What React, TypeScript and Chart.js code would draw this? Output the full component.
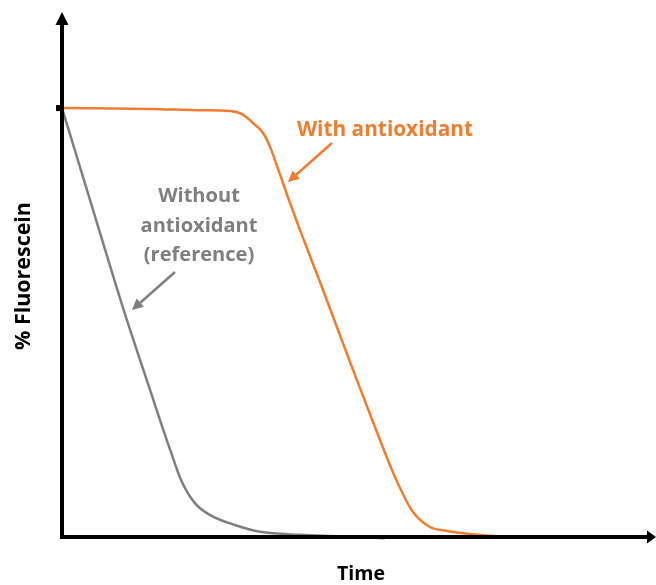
import React, { useEffect, useRef } from "react";
import { Chart, registerables } from "chart.js";

Chart.register(...registerables);

// Time (arbitrary units) and % fluorescein remaining for each assay curve
const withoutTime = [0, 4.76, 10.5, 14.97, 18.4, 20.4, 22.6, 25.2, 29.4, 33.7, 40.5, 47.3, 54.9];
const withoutFluor = [100, 78.6, 52.9, 34.3, 20.3, 12.8, 7.9, 5.1, 2.8, 1.2, 0.5, 0.2, -0.3];

const withTime = [0, 14.97, 23.5, 28.6, 30.6, 32.5, 34.2, 35.4, 36.7, 38.78, 41.33, 43.88, 46.43, 48.98, 51.53, 54.08, 56.12, 57.82, 59.69, 62.59, 65.5, 69.4, 74.0, 77.9];
const withFluor = [100, 99.8, 99.5, 99.3, 98.6, 96.5, 94.2, 90.9, 86.0, 77.86, 68.53, 59.44, 50.12, 40.79, 31.7, 22.61, 15.62, 10.49, 5.83, 2.33, 1.4, 0.7, 0.2, 0];

const xAxisTitle = "Time";
const yAxisTitle = "% Fluorescein";
const withLabel = ["With antioxidant"];
const withoutLabel = ["Without", "antioxidant", "(reference)"];

const ORANGE = "#ed7d31";
const GRAY = "#7f7f7f";
const FAMILY = "'Open Sans', 'Noto Sans', sans-serif";

// pick a bold font size so that `text` spans `width` pixels
function fitFont(ctx: CanvasRenderingContext2D, text: string, width: number) {
  ctx.font = `bold 20px ${FAMILY}`;
  const w = ctx.measureText(text).width;
  const size = (20 * width) / w;
  ctx.font = `bold ${size.toFixed(2)}px ${FAMILY}`;
}

function arrow(ctx: CanvasRenderingContext2D, x1: number, y1: number, x2: number, y2: number, color: string) {
  const ang = Math.atan2(y2 - y1, x2 - x1);
  const head = 11;
  const half = 5.5;
  const bx = x2 - head * Math.cos(ang);
  const by = y2 - head * Math.sin(ang);
  ctx.save();
  ctx.strokeStyle = color;
  ctx.fillStyle = color;
  ctx.lineWidth = 2.5;
  ctx.beginPath();
  ctx.moveTo(x1, y1);
  ctx.lineTo(bx, by);
  ctx.stroke();
  ctx.beginPath();
  ctx.moveTo(x2, y2);
  ctx.lineTo(bx + half * Math.sin(ang), by - half * Math.cos(ang));
  ctx.lineTo(bx - half * Math.sin(ang), by + half * Math.cos(ang));
  ctx.closePath();
  ctx.fill();
  ctx.restore();
}

// Axes with arrowheads, the 100 % tick, titles and callouts
const decorPlugin = {
  id: "decor",
  afterDatasetsDraw(chart: Chart) {
    const { ctx, chartArea, scales } = chart;
    const x0 = chartArea.left;
    const y0 = scales.y.getPixelForValue(0);
    const y100 = scales.y.getPixelForValue(100);
    ctx.save();
    ctx.strokeStyle = "#000";
    ctx.fillStyle = "#000";
    ctx.lineWidth = 4;
    ctx.lineCap = "butt";
    // y axis
    ctx.beginPath();
    ctx.moveTo(x0, y0 + 2);
    ctx.lineTo(x0, chartArea.top + 10);
    ctx.stroke();
    ctx.beginPath();
    ctx.moveTo(x0, chartArea.top);
    ctx.lineTo(x0 - 6.5, chartArea.top + 13);
    ctx.lineTo(x0 + 6.5, chartArea.top + 13);
    ctx.closePath();
    ctx.fill();
    // x axis
    const xEnd = chart.width;
    ctx.beginPath();
    ctx.moveTo(x0 - 2, y0);
    ctx.lineTo(xEnd - 8, y0);
    ctx.stroke();
    ctx.beginPath();
    ctx.moveTo(xEnd, y0);
    ctx.lineTo(xEnd - 9, y0 - 6.5);
    ctx.lineTo(xEnd - 9, y0 + 6.5);
    ctx.closePath();
    ctx.fill();
    // tick at 100 %
    ctx.fillRect(x0 - 6, y100 - 3, 6, 6);

    // axis titles
    ctx.textAlign = "center";
    ctx.textBaseline = "alphabetic";
    fitFont(ctx, xAxisTitle, 48);
    ctx.fillText(xAxisTitle, 361, 580);
    ctx.save();
    ctx.translate(30, 276);
    ctx.rotate(-Math.PI / 2);
    fitFont(ctx, yAxisTitle, 148);
    ctx.fillText(yAxisTitle, 0, 0);
    ctx.restore();

    // callouts
    fitFont(ctx, withLabel[0], 176);
    ctx.fillStyle = ORANGE;
    ctx.textAlign = "left";
    withLabel.forEach((t, i) => ctx.fillText(t, 297, 136 + i * 29));
    arrow(ctx, 332, 143, 288, 182, ORANGE);

    fitFont(ctx, withoutLabel[1], 117);
    ctx.fillStyle = GRAY;
    ctx.textAlign = "center";
    withoutLabel.forEach((t, i) => ctx.fillText(t, 199, 202 + i * 29.5));
    arrow(ctx, 175, 272, 132, 310, GRAY);
    ctx.restore();
  },
};

export default function App() {
  const ref = useRef<HTMLCanvasElement>(null);
  useEffect(() => {
    if (!ref.current) return;
    const chart = new Chart(ref.current, {
      type: "line",
      data: {
        datasets: [
          {
            label: "Without antioxidant (reference)",
            data: withoutTime.map((t, i) => ({ x: t, y: withoutFluor[i] })),
            borderColor: GRAY,
            borderWidth: 2.5,
            pointRadius: 0,
            cubicInterpolationMode: "monotone",
            clip: false,
          },
          {
            label: "With antioxidant",
            data: withTime.map((t, i) => ({ x: t, y: withFluor[i] })),
            borderColor: ORANGE,
            borderWidth: 2.5,
            pointRadius: 0,
            cubicInterpolationMode: "monotone",
            clip: false,
          },
        ],
      },
      options: {
        animation: false,
        responsive: true,
        maintainAspectRatio: false,
        layout: { padding: { left: 62, right: 6, top: 12, bottom: 48 } },
        plugins: { legend: { display: false }, tooltip: { enabled: false } },
        scales: {
          x: { type: "linear", display: false, min: 0, max: 100 },
          y: { type: "linear", display: false, min: 0, max: 122.4 },
        },
      },
      plugins: [decorPlugin],
    });
    return () => chart.destroy();
  }, []);
  return (
    <div style={{ position: "fixed", left: 0, top: 0, width: 656, height: 585, background: "#fff" }}>
      <canvas ref={ref} />
    </div>
  );
}
